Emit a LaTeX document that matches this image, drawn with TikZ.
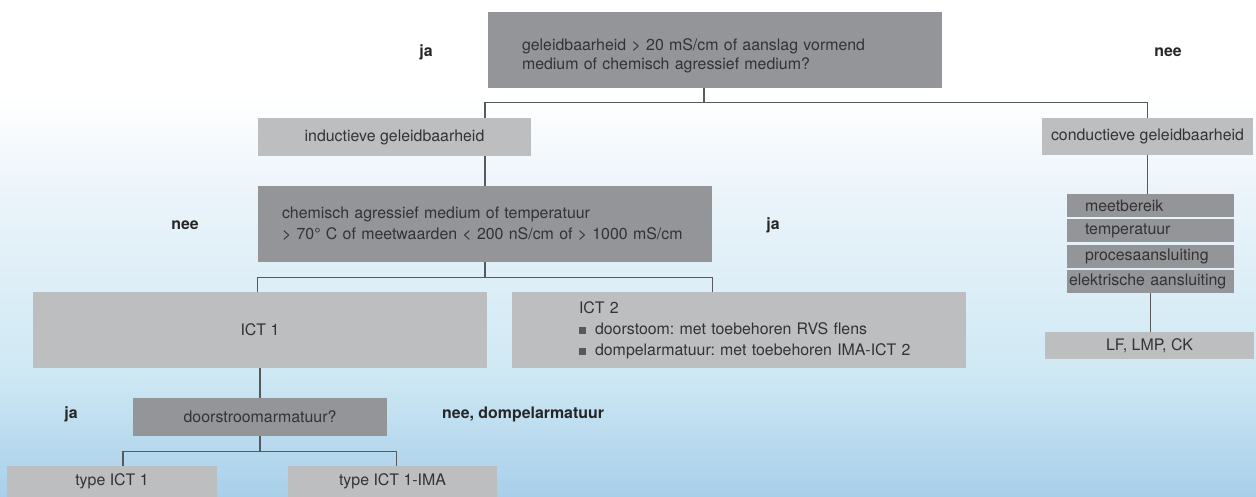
\documentclass[tikz,border=0pt]{standalone}
\usepackage{fontspec}
\setmainfont{TeX Gyre Heros}
\usetikzlibrary{positioning}
\definecolor{darkbox}{HTML}{939598}
\definecolor{lightbox}{HTML}{BCBEC0}
\definecolor{boxtext}{HTML}{333335}
\definecolor{linegray}{HTML}{58595B}
\definecolor{bgone}{HTML}{EAF3FA}
\definecolor{bgtwo}{HTML}{CFE9F4}
\definecolor{bgthree}{HTML}{A8CFEA}
\frenchspacing

\begin{document}
\begin{tikzpicture}[
          x=1pt, y=-1pt,
          font=\fontsize{15.9}{21}\selectfont,
          dark/.style={rectangle, fill=darkbox, text=boxtext, inner sep=0pt},
          light/.style={rectangle, fill=lightbox, text=boxtext, inner sep=0pt},
          stackbox/.style={rectangle, fill=darkbox, text=boxtext, inner sep=0pt, minimum width=167pt, minimum height=23pt, text width=131pt, align=left},
          answer/.style={font=\fontsize{15.9}{21}\selectfont\bfseries, text=black!85},
          line/.style={draw=linegray, line width=1.2pt}
        ]
          \useasboundingbox (0,0) rectangle (1256,497);
          \fill[white] (0,0) rectangle (1256,96);
          \shade[top color=white, bottom color=bgone] (0,95) rectangle (1256,201);
          \shade[top color=bgone, bottom color=bgtwo] (0,200) rectangle (1256,371);
          \shade[top color=bgtwo, bottom color=bgthree] (0,370) rectangle (1256,497);

          \node[dark, minimum width=454pt, minimum height=76pt, text width=386pt, align=left, font=\fontsize{15.9}{19.5}\selectfont] (q1) at (715,50) {\rule{0pt}{23pt}geleidbaarheid > 20 mS/cm of aanslag vormend\\medium of chemisch agressief medium?};
          \node[light, minimum width=273pt, minimum height=38pt] (ind) at (394.5,137) {inductieve geleidbaarheid};
          \node[light, minimum width=211pt, minimum height=37pt] (cond) at (1147.5,136.5) {conductieve geleidbaarheid};
          \node[dark, minimum width=454pt, minimum height=76pt, text width=406pt, align=left] (chem) at (485,224) {\mbox{chemisch agressief medium of temperatuur}\\\mbox{> 70° C of meetwaarden < 200 nS/cm of > 1000 mS/cm}};
          \node[light, minimum width=454pt, minimum height=76pt] (ict1) at (260,330) {ICT 1};
          \node[light, minimum width=454pt, minimum height=76pt, text width=320pt, align=left] (ict2) at (739,330) {ICT 2\\\mbox{\textcolor{linegray}{\rule{7pt}{7pt}}\hspace{9pt}doorstoom: met toebehoren RVS flens}\\\mbox{\textcolor{linegray}{\rule{7pt}{7pt}}\hspace{9pt}dompelarmatuur: met toebehoren IMA-ICT 2}};
          \node[dark, minimum width=254pt, minimum height=38pt] (door) at (260,417) {doorstroomarmatuur?};
          \node[light, minimum width=210pt, minimum height=31pt] (type1) at (112,481.5) {type ICT 1};
          \node[light, minimum width=209pt, minimum height=31pt] (ima) at (392.5,481.5) {type ICT 1-IMA};

          \node[stackbox] (range) at (1150.5,205.5) {meetbereik};
          \node[stackbox, below=2pt of range] (temp) {temperatuur};
          \node[stackbox, below=2pt of temp] (proc) {procesaansluiting};
          \node[stackbox, below=2pt of proc, text width=163pt] (elec) {elektrische aansluiting};
          \node[light, minimum width=209pt, minimum height=27pt] (lmp) at (1149.5,345.5) {LF, LMP, CK};

          \node[answer] (yes1) at (426,52) {ja};
          \node[answer] (no1) at (1168,52) {nee};
          \node[answer] (no2) at (185,225) {nee};
          \node[answer] (yes2) at (773,225) {ja};
          \node[answer] (yes3) at (71,414) {ja};
          \node[answer, anchor=west, inner xsep=0pt] (no3) at (442,414) {nee, dompelarmatuur};

          \draw[line] ([xshift=-11pt]q1.south) -- ++(0,14) coordinate (split1);
          \draw[line] (ind.north -| chem.north) |- (split1) -| (cond.north);
          \draw[line] (ind.south -| chem.north) -- (chem.north);
          \draw[line] (chem.south) -- ++(0,15) coordinate (split2);
          \draw[line] (ict1.north -| chem.west) |- (split2) -| (ict2.north -| chem.east);
          \draw[line] (ict1.south -| door.north) -- (door.north);
          \draw[line] (door.south) -- ++(0,15) coordinate (split3);
          \draw[line] ([xshift=11pt]type1.north) |- (split3) -| ([xshift=4pt]ima.north);
          \draw[line] (cond.south) -- (range.north -| cond.south);
          \draw[line] (elec.south) -- (lmp.north -| elec.south);
        \end{tikzpicture}
\end{document}
